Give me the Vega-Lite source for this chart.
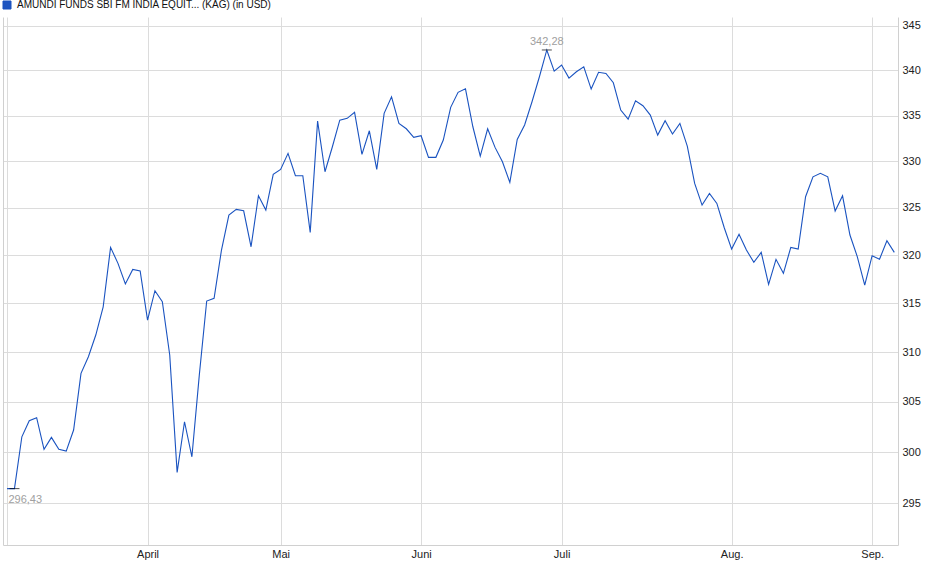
{
  "$schema": "https://vega.github.io/schema/vega-lite/v6.json",
  "autosize": {"type": "none"},
  "width": 895,
  "height": 528,
  "padding": {"left": 3, "top": 17, "right": 42, "bottom": 34},
  "background": "white",
  "config": {
    "font": "Liberation Sans",
    "view": {"stroke": null}
  },
  "data": {
    "values": [
      {"t": 0, "value": 296.43}, {"t": 1, "value": 296.43, "label": "296,43", "kind": "min"},
      {"t": 2, "value": 301.51}, {"t": 3, "value": 303.10}, {"t": 4, "value": 303.40},
      {"t": 5, "value": 300.27}, {"t": 6, "value": 301.45}, {"t": 7, "value": 300.27},
      {"t": 8, "value": 300.10}, {"t": 9, "value": 302.18}, {"t": 10, "value": 307.85},
      {"t": 11, "value": 309.53}, {"t": 12, "value": 311.74}, {"t": 13, "value": 314.64},
      {"t": 14, "value": 320.83}, {"t": 15, "value": 319.15}, {"t": 16, "value": 317.00},
      {"t": 17, "value": 318.52}, {"t": 18, "value": 318.35}, {"t": 19, "value": 313.27},
      {"t": 20, "value": 316.30}, {"t": 21, "value": 315.16}, {"t": 22, "value": 309.70},
      {"t": 23, "value": 298.01}, {"t": 24, "value": 303.00}, {"t": 25, "value": 299.54},
      {"t": 26, "value": 307.67}, {"t": 27, "value": 315.23}, {"t": 28, "value": 315.51},
      {"t": 29, "value": 320.55}, {"t": 30, "value": 324.25}, {"t": 31, "value": 324.85},
      {"t": 32, "value": 324.70}, {"t": 33, "value": 320.89}, {"t": 34, "value": 326.30},
      {"t": 35, "value": 324.78}, {"t": 36, "value": 328.60}, {"t": 37, "value": 329.14},
      {"t": 38, "value": 330.87}, {"t": 39, "value": 328.45}, {"t": 40, "value": 328.45},
      {"t": 41, "value": 322.41}, {"t": 42, "value": 334.39}, {"t": 43, "value": 328.88},
      {"t": 44, "value": 331.59}, {"t": 45, "value": 334.50}, {"t": 46, "value": 334.69},
      {"t": 47, "value": 335.35}, {"t": 48, "value": 330.76}, {"t": 49, "value": 333.33},
      {"t": 50, "value": 329.14}, {"t": 51, "value": 335.24}, {"t": 52, "value": 337.07},
      {"t": 53, "value": 334.14}, {"t": 54, "value": 333.55}, {"t": 55, "value": 332.61},
      {"t": 56, "value": 332.79}, {"t": 57, "value": 330.44}, {"t": 58, "value": 330.44},
      {"t": 59, "value": 332.32}, {"t": 60, "value": 335.90}, {"t": 61, "value": 337.56},
      {"t": 62, "value": 337.95}, {"t": 63, "value": 333.77}, {"t": 64, "value": 330.58},
      {"t": 65, "value": 333.55}, {"t": 66, "value": 331.52}, {"t": 67, "value": 329.96},
      {"t": 68, "value": 327.74}, {"t": 69, "value": 332.39}, {"t": 70, "value": 333.96},
      {"t": 71, "value": 336.52}, {"t": 72, "value": 339.29},
      {"t": 73, "value": 342.28, "label": "342,28", "kind": "max"},
      {"t": 74, "value": 339.92}, {"t": 75, "value": 340.59}, {"t": 76, "value": 339.14},
      {"t": 77, "value": 339.84}, {"t": 78, "value": 340.40}, {"t": 79, "value": 337.92},
      {"t": 80, "value": 339.78}, {"t": 81, "value": 339.66}, {"t": 82, "value": 338.62},
      {"t": 83, "value": 335.60}, {"t": 84, "value": 334.61}, {"t": 85, "value": 336.63},
      {"t": 86, "value": 336.08}, {"t": 87, "value": 335.05}, {"t": 88, "value": 332.86},
      {"t": 89, "value": 334.43}, {"t": 90, "value": 332.97}, {"t": 91, "value": 334.14},
      {"t": 92, "value": 331.66}, {"t": 93, "value": 327.63}, {"t": 94, "value": 325.31},
      {"t": 95, "value": 326.56}, {"t": 96, "value": 325.49}, {"t": 97, "value": 322.90},
      {"t": 98, "value": 320.65}, {"t": 99, "value": 322.20}, {"t": 100, "value": 320.55},
      {"t": 101, "value": 319.26}, {"t": 102, "value": 320.30}, {"t": 103, "value": 316.96},
      {"t": 104, "value": 319.57}, {"t": 105, "value": 318.11}, {"t": 106, "value": 320.83},
      {"t": 107, "value": 320.65}, {"t": 108, "value": 326.20}, {"t": 109, "value": 328.34},
      {"t": 110, "value": 328.71}, {"t": 111, "value": 328.34}, {"t": 112, "value": 324.67},
      {"t": 113, "value": 326.30}, {"t": 114, "value": 322.13}, {"t": 115, "value": 319.84},
      {"t": 116, "value": 316.89}, {"t": 117, "value": 319.95}, {"t": 118, "value": 319.58},
      {"t": 119, "value": 321.52}, {"t": 120, "value": 320.30}
    ]
  },
  "encoding": {
    "x": {
      "field": "t",
      "type": "quantitative",
      "scale": {"domain": [-0.55, 120.5], "nice": false, "zero": false},
      "axis": {
        "title": null,
        "values": [0, 19, 37, 56, 75, 98, 117],
        "labelExpr": "datum.value == 19 ? 'April' : datum.value == 37 ? 'Mai' : datum.value == 56 ? 'Juni' : datum.value == 75 ? 'Juli' : datum.value == 98 ? 'Aug.' : datum.value == 117 ? 'Sep.' : ''",
        "grid": true,
        "gridColor": "#dcdcdc",
        "domainColor": "#d0d0d0",
        "ticks": false,
        "labelPadding": 3,
        "labelFontSize": 11,
        "labelColor": "#222",
        "labelFlush": false,
        "labelOverlap": false
      }
    },
    "y": {
      "field": "value",
      "type": "quantitative",
      "scale": {"type": "log", "domain": [291, 346], "nice": false, "zero": false}
    }
  },
  "layer": [
    {
      "mark": {"type": "line", "strokeWidth": 1.1, "interpolate": "linear"},
      "encoding": {
        "y": {
          "field": "value",
          "type": "quantitative",
          "scale": {"type": "log", "domain": [291, 346], "nice": false, "zero": false},
          "axis": {
            "orient": "right",
            "title": null,
            "values": [295, 300, 305, 310, 315, 320, 325, 330, 335, 340, 345],
            "format": "d",
            "grid": true,
            "gridColor": "#dcdcdc",
            "domainColor": "#d0d0d0",
            "ticks": false,
            "labelPadding": 4,
            "labelFontSize": 11,
            "labelColor": "#222",
            "labelFlush": false
          }
        },
        "color": {
          "datum": "AMUNDI FUNDS SBI FM INDIA EQUIT... (KAG) (in USD)",
          "scale": {"range": ["#1a53c0"]},
          "legend": {
            "title": null,
            "orient": "none",
            "legendX": -1,
            "legendY": -17,
            "padding": 0,
            "symbolType": "square",
            "symbolSize": 64,
            "labelFontSize": 10,
            "labelColor": "#111",
            "labelOffset": 5,
            "labelLimit": 500,
            "encode": {
              "symbols": {"update": {"fill": {"value": "#1f55c0"}, "stroke": {"value": "#0c2c70"}, "strokeWidth": {"value": 1}}}
            }
          }
        }
      }
    },
    {
      "transform": [{"filter": "datum.kind != null"}],
      "mark": {"type": "tick", "orient": "horizontal", "size": 10, "thickness": 1, "color": "black"},
      "encoding": {
        "y": {
          "field": "value",
          "type": "quantitative",
          "axis": {"orient": "left", "labels": false, "ticks": false, "grid": false, "title": null, "domainColor": "#d0d0d0"}
        }
      }
    },
    {
      "transform": [{"filter": "datum.kind == 'min'"}],
      "mark": {"type": "text", "align": "left", "baseline": "top", "dx": -6, "dy": 5, "fontSize": 11, "color": "#a0a0a0"},
      "encoding": {
        "y": {"field": "value", "type": "quantitative", "axis": null},
        "text": {"field": "label"}
      }
    },
    {
      "transform": [{"filter": "datum.kind == 'max'"}],
      "mark": {"type": "text", "align": "center", "baseline": "bottom", "dy": -3, "fontSize": 11, "color": "#a0a0a0"},
      "encoding": {
        "y": {"field": "value", "type": "quantitative", "axis": null},
        "text": {"field": "label"}
      }
    }
  ],
  "resolve": {"axis": {"y": "independent"}}
}
